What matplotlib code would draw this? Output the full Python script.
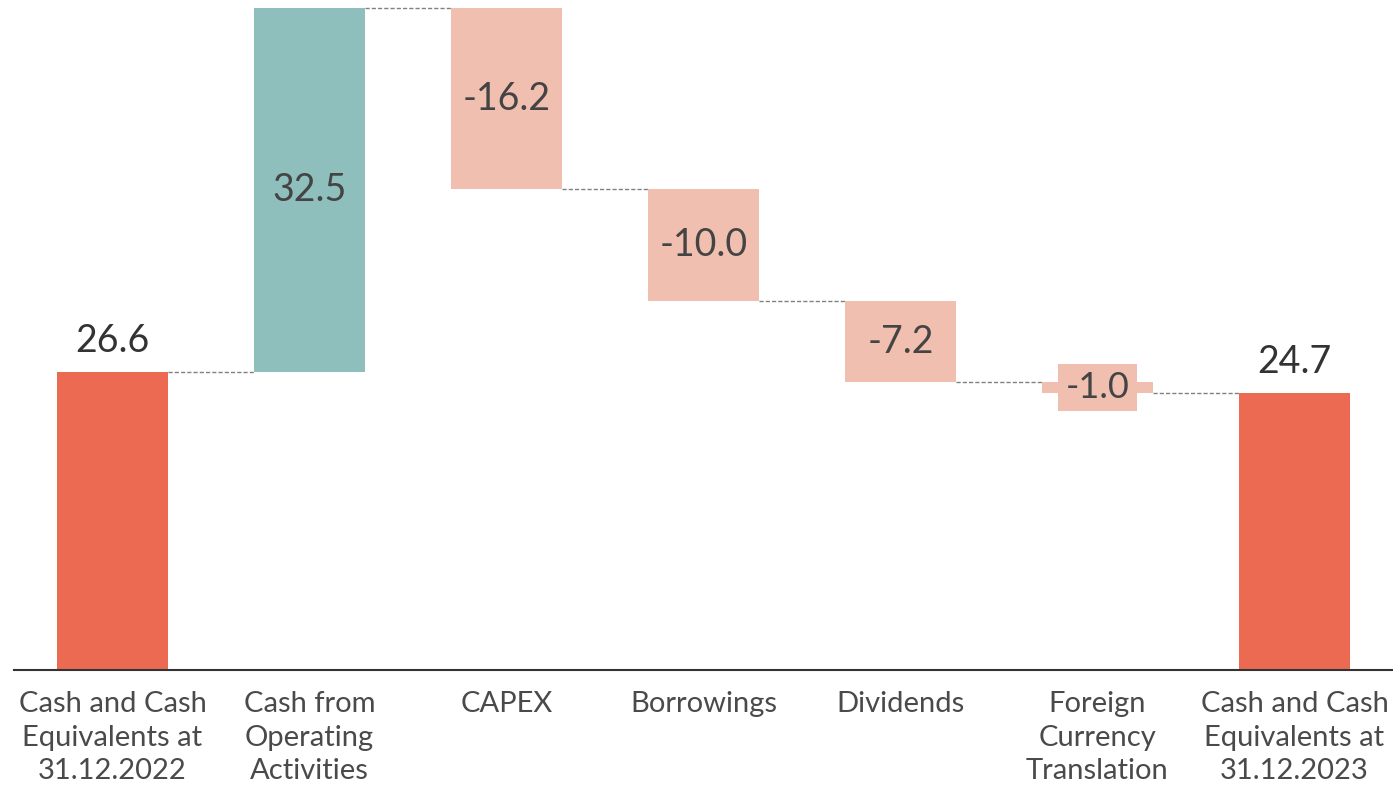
import matplotlib.pyplot as plt

# === Data ===
categories = ['Cash and Cash\nEquivalents at\n31.12.2022', 'Cash from\nOperating\nActivities',
              'CAPEX', 'Borrowings', 'Dividends', 'Foreign\nCurrency\nTranslation',
              'Cash and Cash\nEquivalents at\n31.12.2023']
values = [26.6, 32.5, -16.2, -10.0, -7.2, -1.0, 24.7]
kinds = ['total', 'up', 'down', 'down', 'down', 'down', 'total']

colors = {'total': '#EC6A51', 'up': '#8EBFBD', 'down': '#F0BFB0'}

plt.rcParams['font.family'] = ['Lato', 'DejaVu Sans']

fig = plt.figure(figsize=(13.93, 7.85), dpi=100)
ax = fig.add_axes([14 / 1393, 115 / 785, 1379 / 1393, 670 / 785])

width = 0.56
running = 0.0
bottoms, tops = [], []
for i, (v, k) in enumerate(zip(values, kinds)):
    if k == 'total':
        b, t = 0, v
        running = v
    else:
        b, t = min(running, running + v), max(running, running + v)
        running += v
    bottoms.append(b)
    tops.append(t)
    ax.bar(i, t - b, bottom=b, width=width, color=colors[k], zorder=2)

# connectors
levels = []
running = 0.0
for v, k in zip(values, kinds):
    running = v if k == 'total' else running + v
    levels.append(running)
for i in range(len(values) - 1):
    ax.plot([i + width / 2, i + 1 - width / 2], [levels[i], levels[i]],
            color='#808080', linestyle=(0, (3, 1.5)), linewidth=1, zorder=1)

# labels
for i, (v, k) in enumerate(zip(values, kinds)):
    if k == 'total':
        ax.text(i, tops[i] + 1.2, f'{v:.1f}', ha='center', va='bottom',
                fontsize=27, color='#333333')
    elif abs(v) < 2:
        ax.text(i, (bottoms[i] + tops[i]) / 2, f'{v:.1f}', ha='center', va='center',
                fontsize=26, color='#444444', zorder=3,
                bbox=dict(boxstyle='square,pad=0.2', facecolor=colors[k], edgecolor='none'))
    else:
        ax.text(i, (bottoms[i] + tops[i]) / 2, f'{v:.1f}', ha='center', va='center',
                fontsize=27, color='#444444', zorder=3)

ax.set_xlim(-0.5, len(values) - 0.5)
ax.set_ylim(0, 59.8)
ax.set_xticks(range(len(values)))
ax.set_xticklabels(categories, fontsize=21, color='#4a4a4a', linespacing=1.37)
ax.tick_params(axis='x', length=0, pad=15)
ax.set_yticks([])
for s in ['top', 'right', 'left']:
    ax.spines[s].set_visible(False)
ax.spines['bottom'].set_color('#333333')
ax.spines['bottom'].set_linewidth(1.5)

fig.savefig('out.png', dpi=100)
